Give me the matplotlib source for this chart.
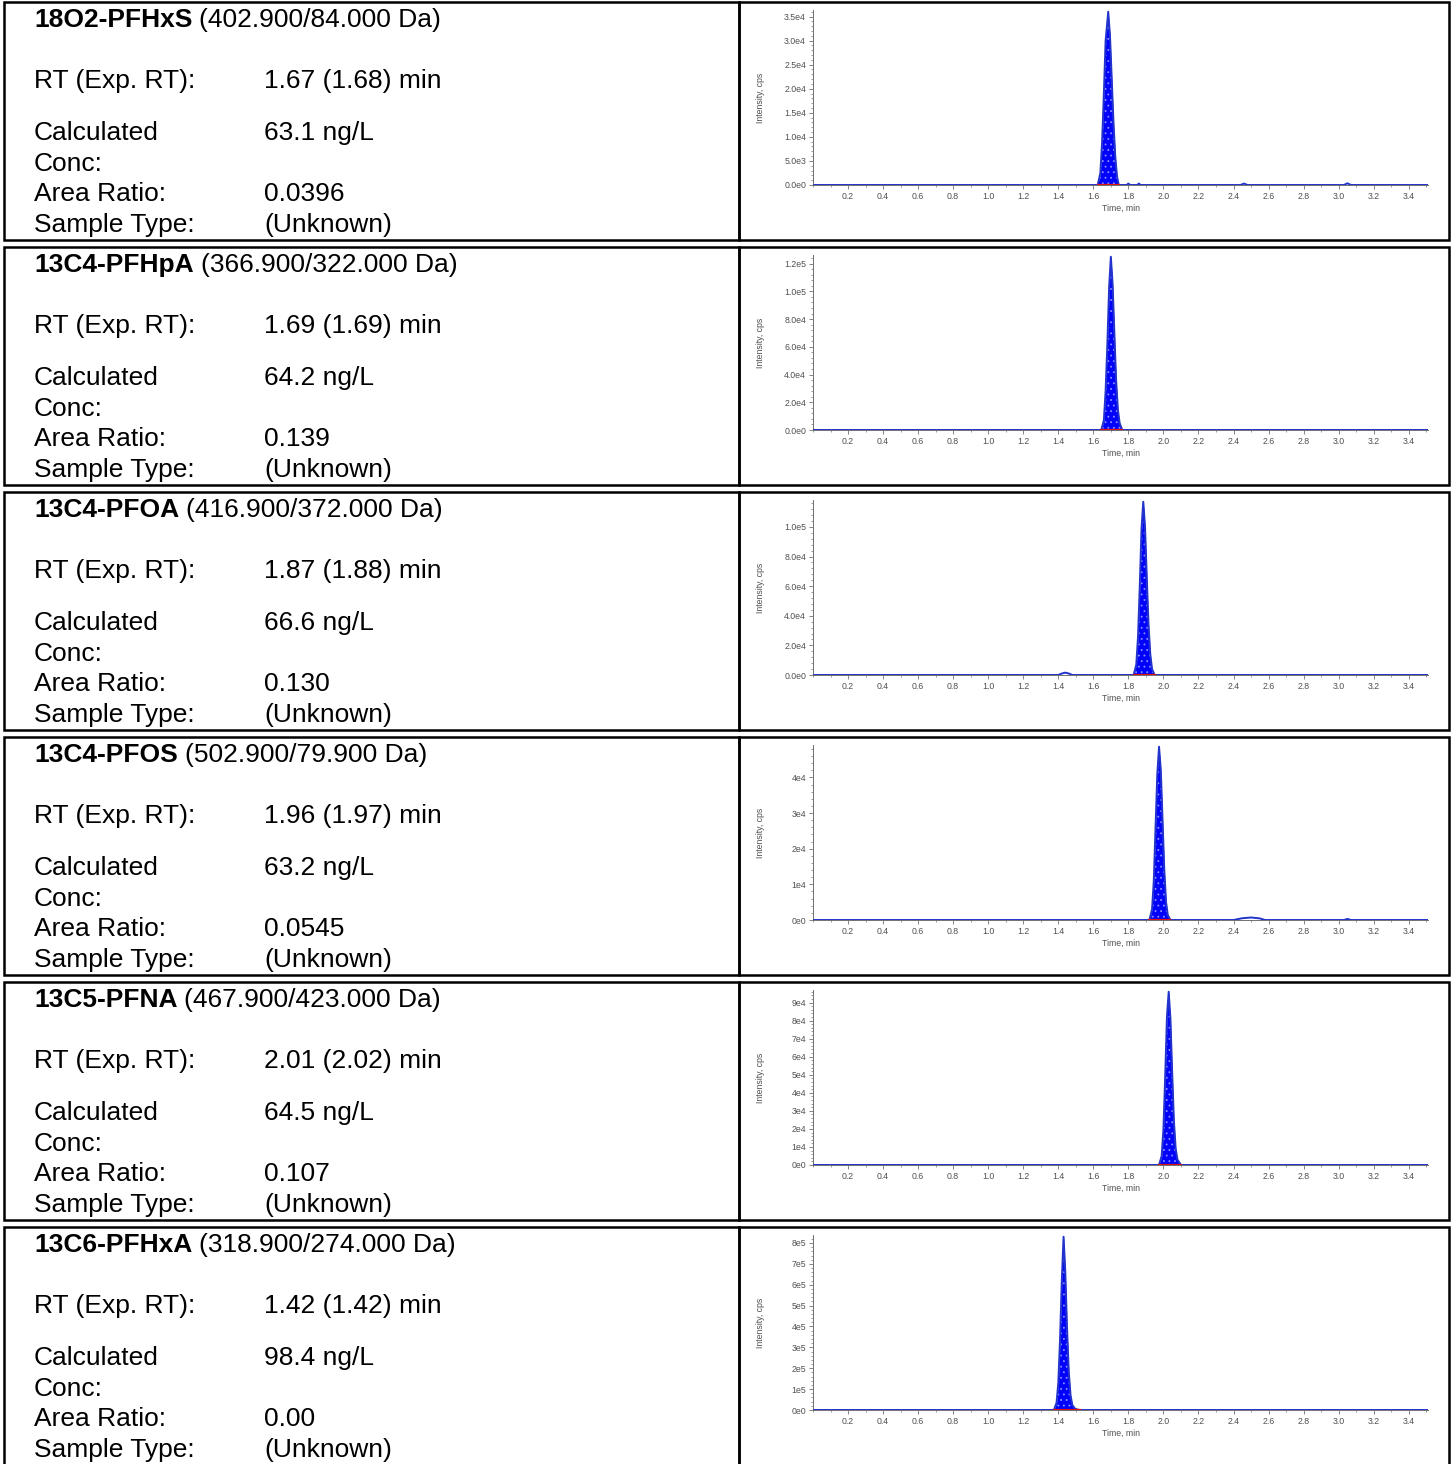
import numpy as np
import matplotlib
matplotlib.use("Agg")
from matplotlib import pyplot as plt
from matplotlib.patches import Rectangle
from matplotlib.ticker import AutoMinorLocator, MultipleLocator

plt.rcParams.update({'font.family': ['Liberation Sans', 'DejaVu Sans'],
                     'hatch.linewidth': 0.6})

W, H = 1452, 1464

# compound table
names = ["18O2-PFHxS", "13C4-PFHpA", "13C4-PFOA", "13C4-PFOS", "13C5-PFNA", "13C6-PFHxA"]
transitions = ["(402.900/84.000 Da)", "(366.900/322.000 Da)", "(416.900/372.000 Da)",
               "(502.900/79.900 Da)", "(467.900/423.000 Da)", "(318.900/274.000 Da)"]
rt = ["1.67", "1.69", "1.87", "1.96", "2.01", "1.42"]
exp_rt = ["1.68", "1.69", "1.88", "1.97", "2.02", "1.42"]
conc = ["63.1", "64.2", "66.6", "63.2", "64.5", "98.4"]
area_ratio = ["0.0396", "0.139", "0.130", "0.0545", "0.107", "0.00"]
sample_type = ["(Unknown)"] * 6

# chromatogram traces (time, min / intensity, cps)
trace_t = [
    [0.0, 1.625, 1.64, 1.65, 1.66, 1.67, 1.685, 1.695, 1.705, 1.715, 1.725, 1.735, 1.745,
     1.79, 1.80, 1.81, 1.85, 1.86, 1.87, 2.44, 2.46, 2.48, 3.03, 3.05, 3.07, 3.51],
    [0.0, 1.645, 1.66, 1.67, 1.68, 1.69, 1.70, 1.71, 1.72, 1.73, 1.74, 1.75, 1.765, 3.51],
    [0.0, 1.40, 1.42, 1.44, 1.46, 1.48, 1.83, 1.845, 1.855, 1.865, 1.875, 1.885, 1.895,
     1.905, 1.915, 1.925, 1.935, 1.95, 3.51],
    [0.0, 1.92, 1.935, 1.945, 1.955, 1.965, 1.975, 1.985, 1.995, 2.005, 2.015, 2.025, 2.04,
     2.40, 2.45, 2.50, 2.55, 2.58, 3.03, 3.05, 3.07, 3.51],
    [0.0, 1.975, 1.99, 2.00, 2.01, 2.02, 2.03, 2.04, 2.05, 2.06, 2.07, 2.08, 2.10, 3.51],
    [0.0, 1.375, 1.39, 1.40, 1.41, 1.42, 1.43, 1.44, 1.45, 1.46, 1.47, 1.48, 1.495, 1.51, 1.525, 3.51],
]
trace_y = [
    [0, 0, 2.5e3, 9.0e3, 1.9e4, 3.0e4, 3.6e4, 3.1e4, 2.2e4, 1.3e4, 6.0e3, 1.8e3, 0,
     0, 300, 0, 0, 300, 0, 0, 300, 0, 0, 350, 0, 0],
    [0, 0, 7.0e3, 2.8e4, 6.2e4, 1.03e5, 1.25e5, 1.05e5, 7.0e4, 3.6e4, 1.5e4, 5.0e3, 0, 0],
    [0, 0, 1.0e3, 1.6e3, 1.0e3, 0, 0, 7.0e3, 2.6e4, 6.0e4, 9.9e4, 1.17e5, 1.0e5,
     6.6e4, 3.4e4, 1.4e4, 4.0e3, 0, 0],
    [0, 0, 3.0e3, 1.1e4, 2.6e4, 4.1e4, 4.86e4, 4.2e4, 2.8e4, 1.4e4, 5.0e3, 1.4e3, 0,
     0, 500, 700, 450, 0, 0, 300, 0, 0],
    [0, 0, 5.0e3, 2.0e4, 4.9e4, 8.2e4, 9.6e4, 8.1e4, 5.1e4, 2.4e4, 9.0e3, 3.0e3, 0, 0],
    [0, 0, 3.5e4, 1.3e5, 3.4e5, 6.2e5, 8.3e5, 6.6e5, 3.9e5, 1.8e5, 7.0e4, 2.4e4, 7.0e3, 1.8e3, 0, 0],
]
# integration window (red baseline)
peak_start = [1.625, 1.645, 1.83, 1.92, 1.975, 1.375]
peak_end = [1.745, 1.765, 1.95, 2.04, 2.10, 1.525]

# y ticks per panel
ytick_vals = [
    [0, 5e3, 1e4, 1.5e4, 2e4, 2.5e4, 3e4, 3.5e4],
    [0, 2e4, 4e4, 6e4, 8e4, 1e5, 1.2e5],
    [0, 2e4, 4e4, 6e4, 8e4, 1e5],
    [0, 1e4, 2e4, 3e4, 4e4],
    [0, 1e4, 2e4, 3e4, 4e4, 5e4, 6e4, 7e4, 8e4, 9e4],
    [0, 1e5, 2e5, 3e5, 4e5, 5e5, 6e5, 7e5, 8e5],
]
ytick_labels = [
    ["0.0e0", "5.0e3", "1.0e4", "1.5e4", "2.0e4", "2.5e4", "3.0e4", "3.5e4"],
    ["0.0e0", "2.0e4", "4.0e4", "6.0e4", "8.0e4", "1.0e5", "1.2e5"],
    ["0.0e0", "2.0e4", "4.0e4", "6.0e4", "8.0e4", "1.0e5"],
    ["0e0", "1e4", "2e4", "3e4", "4e4"],
    ["0e0", "1e4", "2e4", "3e4", "4e4", "5e4", "6e4", "7e4", "8e4", "9e4"],
    ["0e0", "1e5", "2e5", "3e5", "4e5", "5e5", "6e5", "7e5", "8e5"],
]
xtick_vals = [0.2, 0.4, 0.6, 0.8, 1.0, 1.2, 1.4, 1.6, 1.8, 2.0, 2.2, 2.4, 2.6, 2.8, 3.0, 3.2, 3.4]
xtick_labels = ["0.2", "0.4", "0.6", "0.8", "1.0", "1.2", "1.4", "1.6", "1.8", "2.0",
                "2.2", "2.4", "2.6", "2.8", "3.0", "3.2", "3.4"]

fig = plt.figure(figsize=(W / 100, H / 100), dpi=100)
renderer = fig.canvas.get_renderer()


def fx(x):
    return x / W


def fy(y):
    return 1 - y / H


ROW = 245
FS = 19
grey = '#707070'

for r in range(len(names)):
    top = ROW * r

    # cell borders
    for x0, x1 in [(4, 739), (739, 1449)]:
        fig.patches.append(Rectangle((fx(x0), fy(top + 240)), fx(x1 - x0), (238) / H,
                                     transform=fig.transFigure, fill=False,
                                     ec='black', lw=1.8))

    # left side text
    t1 = fig.text(fx(34), fy(top + 20), names[r], fontsize=FS, fontweight='bold', va='center')
    bb = t1.get_window_extent(renderer)
    fig.text(bb.x1 / W + 7 / W, fy(top + 20), transitions[r], fontsize=FS, va='center')

    rows_txt = [(81, "RT (Exp. RT):", f"{rt[r]} ({exp_rt[r]}) min"),
                (133, "Calculated", f"{conc[r]} ng/L"),
                (164, "Conc:", ""),
                (194, "Area Ratio:", area_ratio[r]),
                (225, "Sample Type:", sample_type[r])]
    for dy, lab, val in rows_txt:
        fig.text(fx(34), fy(top + dy), lab, fontsize=FS, va='center')
        if val:
            fig.text(fx(264), fy(top + dy), val, fontsize=FS, va='center')

    # chromatogram
    ax = fig.add_axes([fx(813), fy(top + 185), fx(1428 - 813), 175 / H])
    t = np.array(trace_t[r])
    y = np.array(trace_y[r])
    m = (t >= peak_start[r]) & (t <= peak_end[r])
    ax.fill_between(t[m], 0, y[m], color='#0000ff', lw=0, zorder=2)
    ax.fill_between(t[m], 0, y[m], facecolor='none', edgecolor='#8c8cff', hatch='...',
                    lw=0, zorder=3)
    ax.plot(t, y, color='#2233cc', lw=1.4, zorder=4, solid_joinstyle='round')
    ax.plot([peak_start[r], peak_end[r]], [0, 0], color='#dd1111', lw=1.6, zorder=5)

    ymax = max(trace_y[r])
    ax.set_xlim(0, 3.51)
    ax.set_ylim(0, ymax * 1.01)
    ax.set_xticks(xtick_vals, xtick_labels)
    ax.set_yticks(ytick_vals[r], ytick_labels[r])
    ax.xaxis.set_minor_locator(MultipleLocator(0.1))
    ax.yaxis.set_minor_locator(AutoMinorLocator(5))
    ax.tick_params(axis='both', which='major', labelsize=6.3, labelcolor='#505050',
                   color=grey, length=3, width=0.6, pad=2)
    ax.tick_params(axis='both', which='minor', color=grey, length=1.5, width=0.5)
    for s in ['top', 'right']:
        ax.spines[s].set_visible(False)
    ax.spines['left'].set_color(grey)
    ax.spines['left'].set_linewidth(0.7)
    ax.spines['bottom'].set_color(grey)
    ax.spines['bottom'].set_linewidth(0.7)
    ax.set_facecolor('none')

    ax.set_ylabel("Intensity, cps", fontsize=6.3, color='#505050')
    ax.yaxis.set_label_coords(-0.078, 0.5)
    ax.set_xlabel("Time, min", fontsize=6.3, color='#505050')
    ax.xaxis.set_label_coords(0.5, -0.11)

fig.savefig('out.png', dpi=100, facecolor='white')
